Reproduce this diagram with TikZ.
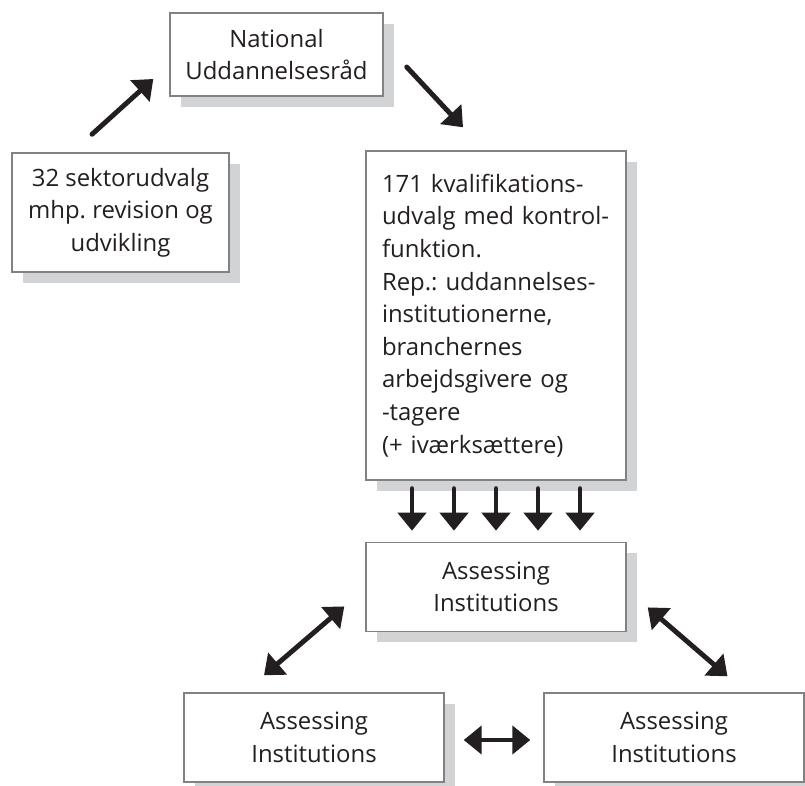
\documentclass[tikz,border=0pt]{standalone}
\usepackage{fontspec}
\setmainfont{Open Sans}
\usepackage{tikz}
\usetikzlibrary{arrows.meta,shadows,positioning}
\definecolor{boxgray}{RGB}{128,130,133}
\definecolor{shadowgray}{RGB}{209,211,212}
\definecolor{inkblack}{RGB}{35,31,32}
\frenchspacing

\begin{document}
\begin{tikzpicture}[box/.style={rectangle, draw=boxgray, line width=1pt, fill=white, text=inkblack, align=center, inner sep=0pt, font=\fontsize{17}{23.2}\selectfont, drop shadow={shadow xshift=0.275cm, shadow yshift=-0.275cm, fill=shadowgray, opacity=1}},
bigarrow/.style={draw=inkblack, line width=3.5pt, line cap=round, -{Triangle[length=0.45cm, width=0.7cm]}},
dblarrow/.style={draw=inkblack, line width=3.5pt, {Triangle[length=0.45cm, width=0.7cm]}-{Triangle[length=0.45cm, width=0.7cm]}}]
\useasboundingbox (0,0) rectangle (20.125,19.625);

\node [box, minimum width=5.325cm, minimum height=2.075cm] (nat) at (6.9125,18.2625) {National\\Uddannelsesråd};
\node [box, minimum width=5.425cm, minimum height=2.975cm] (sek) at (3.0125,14.3125) {32 sektorudvalg\\mhp. revision og\\udvikling};
\node [box, text width=5.7cm, inner xsep=0.4cm, align=left, minimum height=8.225cm] (kval) at (12.4,11.7375) {171 kvalifikations-\\udvalg med kontrol-\\funktion.\\Rep.: uddannelses-\\institutionerne,\\branchernes\\arbejdsgivere og\\-tagere\\(+ iværksættere)};

\node [box, minimum width=6.5cm, minimum height=2.225cm, below=1.525cm of kval] (ai) {Assessing\\Institutions};
\node [box, minimum width=6.5cm, minimum height=2.225cm] (ail) at (7.85,1.1875) {Assessing\\Institutions};
\node [box, minimum width=6.5cm, minimum height=2.225cm] (air) at (16.85,1.1875) {Assessing\\Institutions};

\draw [bigarrow] ([shift={(-0.7125,0.45)}]sek.north) -- ([shift={(-0.4,-0.6125)}]nat.west);
\draw [bigarrow] ([shift={(0.575,-0.3125)}]nat.east) -- ([shift={(-0.825,0.575)}]kval.north);

\foreach \dx in {-2.1,-1.05,0,1.05,2.1}
  \draw [bigarrow] ([shift={(\dx,-0.2)}]kval.south) -- ([shift={(\dx,0.275)}]ai.north);

\draw [dblarrow] ([shift={(-0.525,-0.4875)}]ai.west) -- ([shift={(-1.25,0.425)}]ail.north);
\draw [dblarrow] ([shift={(0.525,-0.5125)}]ai.east) -- ([shift={(1.3375,0.4)}]air.north);
\draw [dblarrow] ([shift={(0.475,-0.0625)}]ail.east) -- ([shift={(-0.325,-0.0625)}]air.west);

\end{tikzpicture}
\end{document}
